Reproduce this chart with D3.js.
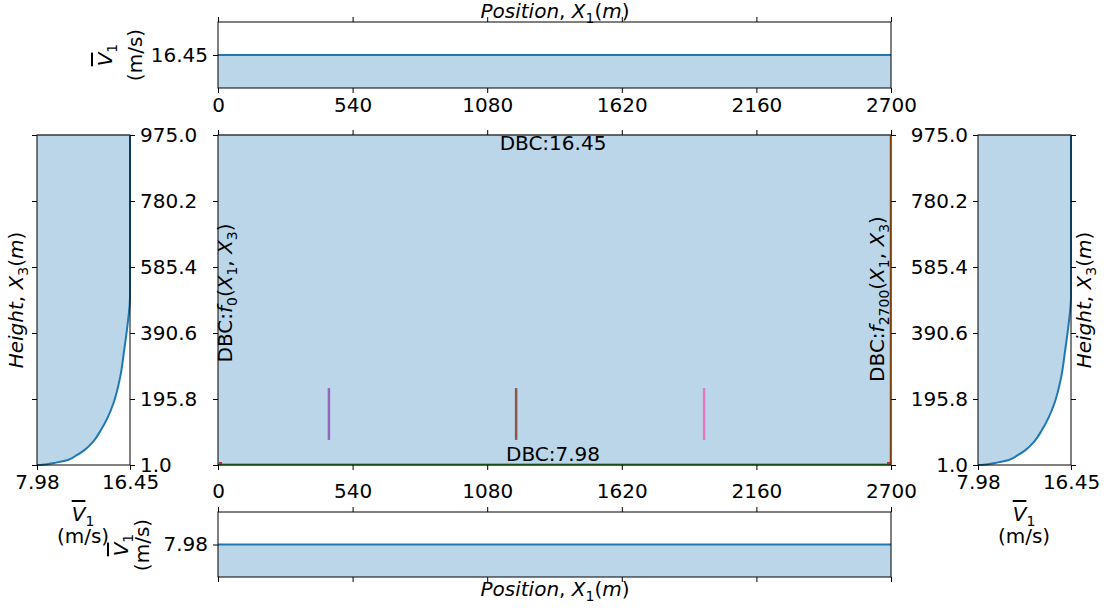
<!DOCTYPE html>
<html lang="en">
<head>
<meta charset="UTF-8">
<title>Wind profile domain</title>
<script src="https://d3js.org/d3.v7.min.js"></script>
<style>
  body { margin: 0; background: #fff; }
  svg { font-family: "DejaVu Sans", sans-serif; }
  .tick text { font-size: 20px; fill: #000; font-family: "DejaVu Sans", sans-serif; }
  .tick line { stroke: #000; stroke-width: 1; }
</style>
</head>
<body>
<svg id="chart" width="1113" height="610"></svg>
<script>
// ---- data ----
const xTicks = [0, 540, 1080, 1620, 2160, 2700];
const zTicks = [1.0, 195.8, 390.6, 585.4, 780.2, 975.0];
const vTicks = [7.98, 16.45];
const vTop = 16.45;      // top boundary velocity
const vBottom = 7.98;    // bottom boundary velocity

// inflow / outflow vertical profile (height, mean velocity)
const profileZ = [1, 2, 4, 8, 16, 30, 45, 70, 104, 140, 184, 261, 340, 408, 497, 975];
const profileV = [7.98, 8.5, 9.0, 9.7, 10.8, 11.6, 12.3, 13.1, 13.8, 14.4, 14.95, 15.56, 15.92, 16.2, 16.45, 16.45];

// turbines (rotor lines)
const turbineX = [445, 1196, 1950];
const rotorBottom = [75, 75, 75];
const rotorTop = [228, 228, 228];
const turbineColors = ["#9467bd", "#8c564b", "#e377c2"];

const svg = d3.select("#chart");
const blue = "#1f77b4";
const FS = 20;

// scales
const xMain = d3.scaleLinear().domain([0, 2700]).range([218, 891]);
const zMain = d3.scaleLinear().domain([1, 975]).range([465, 135]);
const vTopY = d3.scaleLinear().domain([vTop - 1, vTop + 1]).range([88, 22]);
const vBotY = d3.scaleLinear().domain([vBottom - 1, vBottom + 1]).range([577, 512]);
const vLeft = d3.scaleLinear().domain([7.98, 16.45]).range([37, 130]);
const vRight = d3.scaleLinear().domain([7.98, 16.45]).range([978, 1071]);

// helper: write mathtext-like label with tspans
// parts: [text, italic, sub, overline]
function mathText(sel, parts) {
  let shifted = false;
  parts.forEach(p => {
    const t = sel.append("tspan").text(p[0]);
    if (p[1]) t.attr("font-style", "italic");
    if (p[3]) t.style("text-decoration", "overline");
    if (p[2]) {
      t.attr("font-size", "14px");
      if (!shifted) { t.attr("dy", 5); shifted = true; }
    } else if (shifted) {
      t.attr("dy", -5); shifted = false;
    }
  });
  return sel;
}

function label(x, y, parts, rotate) {
  const t = svg.append("text")
    .attr("transform", `translate(${x},${y})` + (rotate ? " rotate(-90)" : ""))
    .attr("text-anchor", "middle")
    .attr("font-size", FS)
    .attr("fill", "#000");
  return mathText(t, parts);
}

function axis(gen, transform, noLabels, pad) {
  gen.tickSizeOuter(0).tickSize(5).tickPadding(pad == null ? 5 : pad);
  if (noLabels) gen.tickFormat("");
  const g = svg.append("g").attr("transform", transform).call(gen);
  g.select(".domain").remove();
  return g;
}

function spines(x0, y0, x1, y1, topColor) {
  svg.append("rect").attr("x", x0).attr("y", y0)
    .attr("width", x1 - x0).attr("height", y1 - y0)
    .attr("fill", "none").attr("stroke", "#000").attr("stroke-width", 1);
  if (topColor) {
    svg.append("line").attr("x1", x0).attr("x2", x1).attr("y1", y0).attr("y2", y0)
      .attr("stroke", topColor).attr("stroke-width", 1.2);
  }
}

const vLabel = [["V", true, false, true], ["1", false, true]];
const msLabel = [["(m/s)", false, false]];
const posLabel = [["Position", true], [", ", false], ["X", true], ["1", false, true], ["(", false], ["m", true], [")", false]];
const heightLabel = [["Height", true], [", ", false], ["X", true], ["3", false, true], ["(", false], ["m", true], [")", false]];
const intFmt = d3.format("d");

// ---------------- top panel ----------------
const xEnds = [0, 2700];
svg.append("path").datum(xEnds)
  .attr("d", d3.area().x(d => xMain(d)).y0(vTopY.range()[0]).y1(vTopY(vTop)))
  .attr("fill", blue).attr("fill-opacity", 0.3);
svg.append("path").datum(xEnds)
  .attr("d", d3.line().x(d => xMain(d)).y(vTopY(vTop)))
  .attr("stroke", blue).attr("stroke-width", 2).attr("fill", "none");
spines(218, 22, 891, 88);
axis(d3.axisBottom(xMain).tickValues(xTicks).tickFormat(intFmt), "translate(0,88)");
axis(d3.axisTop(xMain).tickValues(xTicks), "translate(0,22)", true);
axis(d3.axisLeft(vTopY).tickValues([vTop]).tickFormat(d3.format(".2f")), "translate(218,0)");
label(555, 18, posLabel, false);
label(112, 55, vLabel, true);
label(142, 55, msLabel, true);

// ---------------- main panel ----------------
svg.append("path").datum(xEnds)
  .attr("d", d3.area().x(d => xMain(d)).y0(zMain(1)).y1(zMain(975)))
  .attr("fill", blue).attr("fill-opacity", 0.3);
// boundaries
svg.append("line").attr("x1", xMain(0)).attr("x2", xMain(2700))
  .attr("y1", zMain(1) - 0.5).attr("y2", zMain(1) - 0.5)
  .attr("stroke", "#2ca02c").attr("stroke-width", 2);
svg.append("line").attr("x1", xMain(2700) - 0.5).attr("x2", xMain(2700) - 0.5)
  .attr("y1", zMain(1)).attr("y2", zMain(975))
  .attr("stroke", "#ff7f0e").attr("stroke-width", 2);
svg.selectAll(".corner").data(xEnds).enter().append("rect")
  .attr("x", d => xMain(d) + (d === 0 ? 1 : -4)).attr("y", zMain(1) - 3)
  .attr("width", 3).attr("height", 2.5).attr("fill", "#d62728");
// turbines
svg.selectAll(".turbine").data(turbineX).enter().append("line")
  .attr("x1", d => xMain(d)).attr("x2", d => xMain(d))
  .attr("y1", (d, i) => zMain(rotorBottom[i])).attr("y2", (d, i) => zMain(rotorTop[i]))
  .attr("stroke", (d, i) => turbineColors[i]).attr("stroke-width", 2.5);
spines(218, 135, 891, 465, "#555");
axis(d3.axisBottom(xMain).tickValues(xTicks).tickFormat(intFmt), "translate(0,465)", false, 14);
axis(d3.axisTop(xMain).tickValues(xTicks), "translate(0,135)", true);
axis(d3.axisLeft(zMain).tickValues(zTicks), "translate(218,0)", true);
axis(d3.axisRight(zMain).tickValues(zTicks), "translate(891,0)", true);
svg.append("text").attr("x", 553).attr("y", 150).attr("text-anchor", "middle")
  .attr("font-size", FS).text("DBC:" + d3.format(".2f")(vTop));
svg.append("text").attr("x", 553).attr("y", 461).attr("text-anchor", "middle")
  .attr("font-size", FS).text("DBC:" + d3.format(".2f")(vBottom));
label(232, 293, [["DBC:", false], ["f", true], ["0", false, true], ["(", false], ["X", true], ["1", false, true],
  [", ", false], ["X", true], ["3", false, true], [")", false]], true);
label(884, 299, [["DBC:", false], ["f", true], ["2700", false, true], ["(", false], ["X", true], ["1", false, true],
  [", ", false], ["X", true], ["3", false, true], [")", false]], true);

// ---------------- side profile panels ----------------
const profile = profileZ.map((z, i) => ({ z: z, v: profileV[i] }));
function profilePanel(vScale) {
  svg.append("path").datum(profile)
    .attr("d", d3.area().curve(d3.curveMonotoneY)
      .y(d => zMain(d.z)).x0(vScale(7.98)).x1(d => vScale(d.v)))
    .attr("fill", blue).attr("fill-opacity", 0.3);
  svg.append("path").datum(profile)
    .attr("d", d3.line().curve(d3.curveMonotoneY).x(d => vScale(d.v)).y(d => zMain(d.z)))
    .attr("stroke", blue).attr("stroke-width", 2).attr("fill", "none");
  const r = vScale.range();
  spines(r[0], 135, r[1], 465, "#555");
  axis(d3.axisBottom(vScale).tickValues(vTicks).tickFormat(d3.format(".2f")), "translate(0,465)");
}

// left
profilePanel(vLeft);
axis(d3.axisLeft(zMain).tickValues(zTicks), "translate(37,0)", true);
axis(d3.axisRight(zMain).tickValues(zTicks).tickFormat(d3.format(".1f")), "translate(130,0)");
label(23, 300, heightLabel, true);
label(83, 521, vLabel, false);
label(83, 543, msLabel, false);

// right
profilePanel(vRight);
axis(d3.axisLeft(zMain).tickValues(zTicks).tickFormat(d3.format(".1f")), "translate(978,0)");
axis(d3.axisRight(zMain).tickValues(zTicks), "translate(1071,0)", true);
label(1091, 300, heightLabel, true);
label(1024, 521, vLabel, false);
label(1024, 543, msLabel, false);

// ---------------- bottom panel ----------------
svg.append("path").datum(xEnds)
  .attr("d", d3.area().x(d => xMain(d)).y0(vBotY.range()[0]).y1(vBotY(vBottom)))
  .attr("fill", blue).attr("fill-opacity", 0.3);
svg.append("path").datum(xEnds)
  .attr("d", d3.line().x(d => xMain(d)).y(vBotY(vBottom)))
  .attr("stroke", blue).attr("stroke-width", 2).attr("fill", "none");
spines(218, 512, 891, 577);
axis(d3.axisBottom(xMain).tickValues(xTicks), "translate(0,577)", true);
axis(d3.axisTop(xMain).tickValues(xTicks), "translate(0,512)", true);
axis(d3.axisLeft(vBotY).tickValues([vBottom]).tickFormat(d3.format(".2f")), "translate(218,0)");
label(555, 596, posLabel, false);
label(128, 545, vLabel, true);
label(149, 545, msLabel, true);
</script>
</body>
</html>
